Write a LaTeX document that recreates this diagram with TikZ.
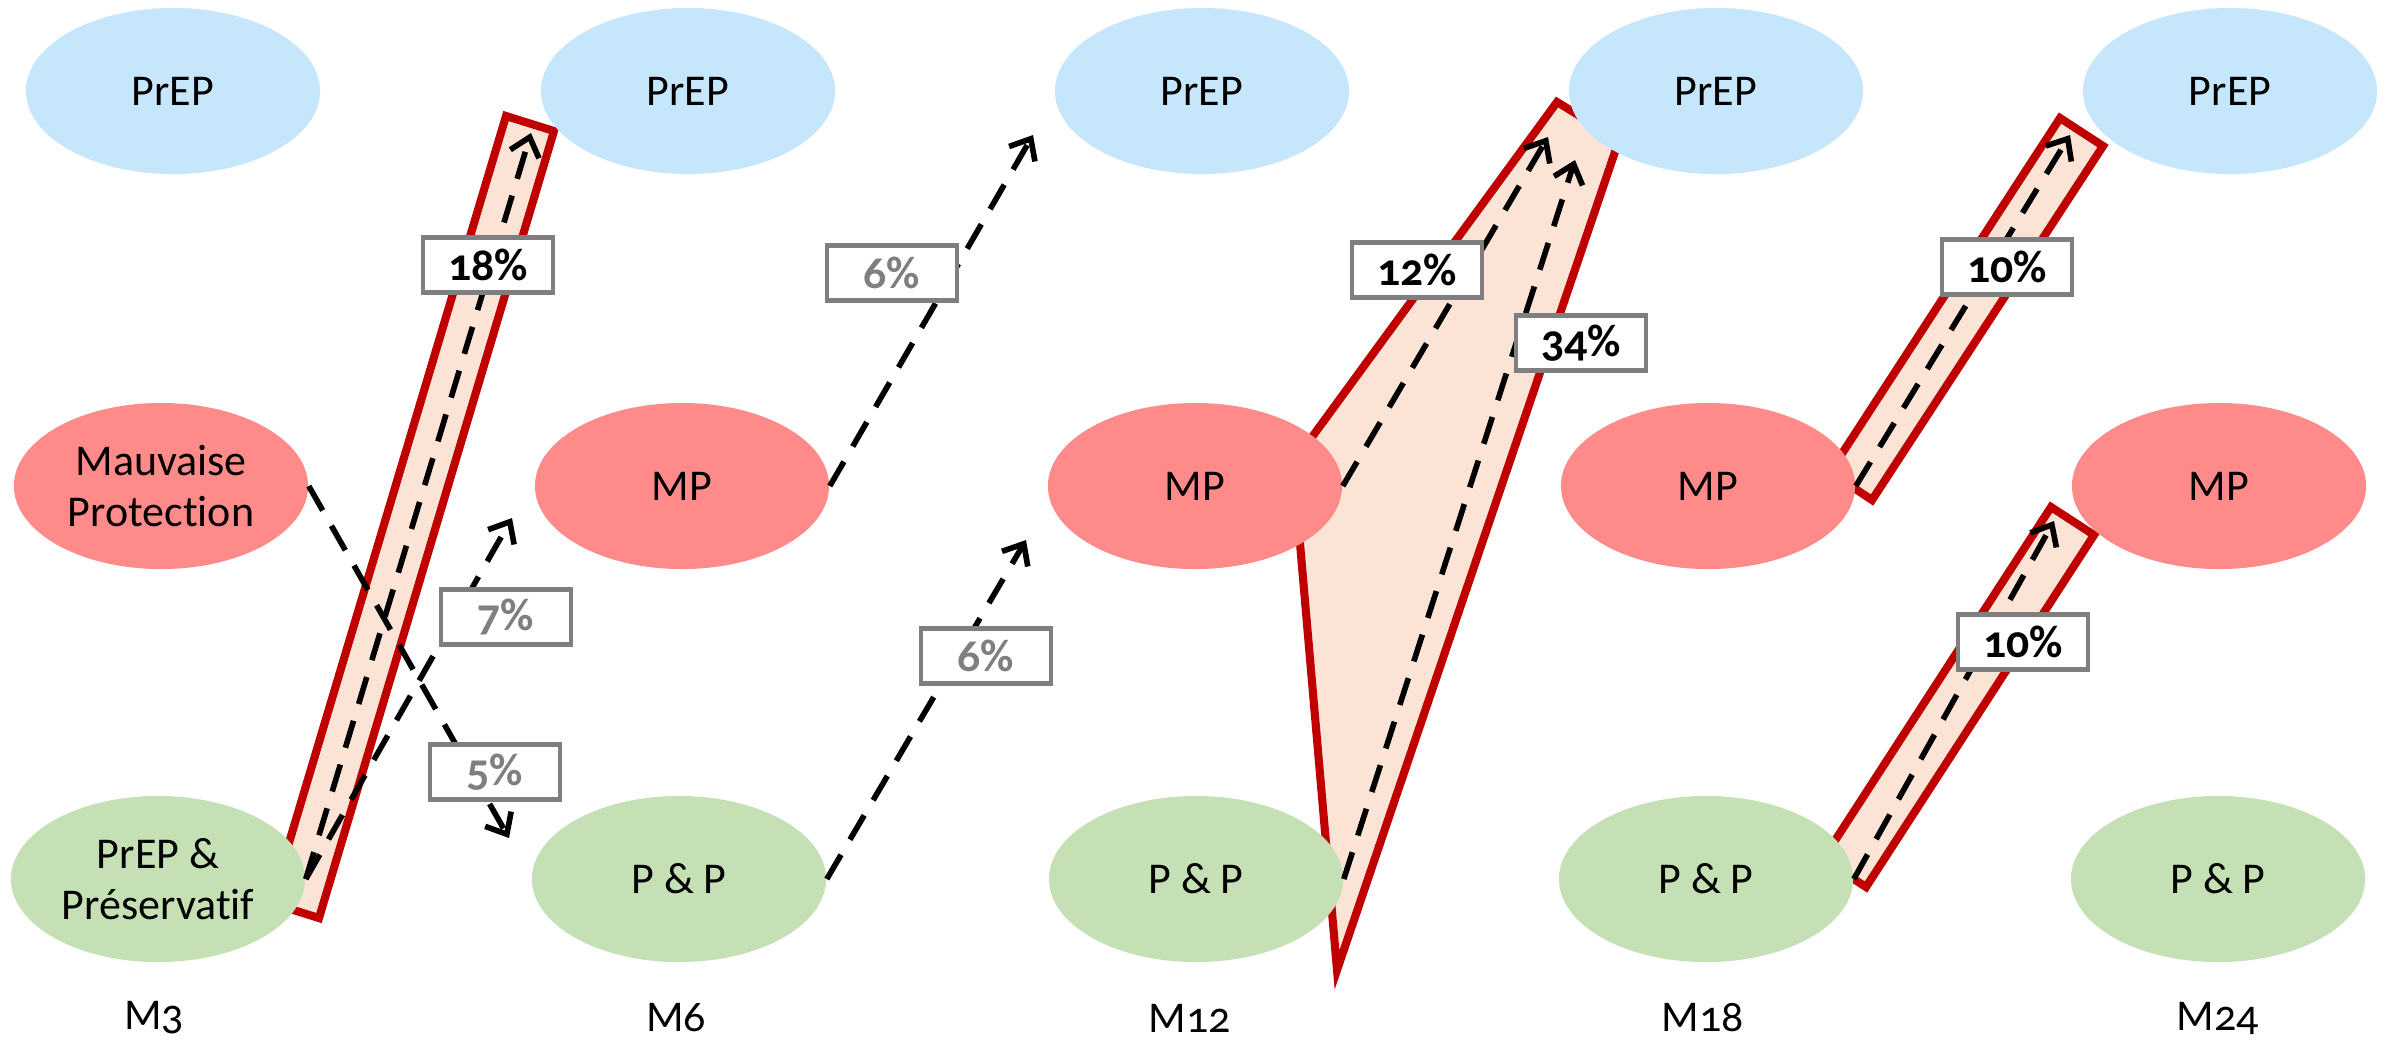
\documentclass[tikz,border=0pt]{standalone}
\usepackage{fontspec}
\setmainfont[Numbers=OldStyle,Ligatures=NoCommon]{Carlito}
\usepackage{tikz}
\usetikzlibrary{arrows.meta,shapes.geometric}
\definecolor{skyblue}{HTML}{C6E6FC}
\definecolor{salmon}{HTML}{FF8A8A}
\definecolor{sage}{HTML}{C5E0B4}
\definecolor{peach}{HTML}{FBE4D6}
\definecolor{darkred}{HTML}{C00000}
\definecolor{greybox}{HTML}{7F7F7F}

\begin{document}
\begin{tikzpicture}[x=0.01cm,y=-0.01cm,>={Straight Barb[length=5pt,width=8.5pt]},
  state/.style={ellipse,minimum width=2.94cm,minimum height=1.66cm,inner sep=0pt,align=center,font=\fontsize{12.5}{14.5}\selectfont},
  prep/.style={state,fill=skyblue},
  mp/.style={state,fill=salmon},
  pp/.style={state,fill=sage},
  band/.style={fill=peach,draw=darkred,line width=2.3pt,line join=miter},
  flow/.style={->,line width=1.6pt,dash pattern=on 8pt off 5pt},
  rate/.style={draw=greybox,line width=1.2pt,fill=white,minimum width=1.3cm,minimum height=0.55cm,inner sep=0pt,font=\fontsize{13}{15}\selectfont\bfseries},
  faded/.style={rate,text=greybox}]
\useasboundingbox (0,0) rectangle (2395,1053);

% highlighted transitions
\filldraw[band] (506,116) -- (554,131) -- (319,918) -- (271,903) -- cycle;
\filldraw[band] (1557,102) -- (1619,140) -- (1337,970) -- (1293,463) -- cycle;
\filldraw[band] (2060,118) -- (2103,146) -- (1872,500) -- (1830,472) -- cycle;
\filldraw[band] (2051,507) -- (2094,535) -- (1866,887) -- (1823,859) -- cycle;

% states at each visit
\node[prep] (prep3) at (173,91) {PrEP};
\node[mp] (mp3) at (161,486) {Mauvaise\\Protection};
\node[pp] (pp3) at (158,879) {PrEP \&\\Préservatif};
\foreach \m/\a/\b/\c in {6/688/682/679,12/1202/1195/1196,18/1716/1708/1706,24/2230/2219/2218}{
  \node[prep] (prep\m) at (\a,91) {PrEP};
  \node[mp] (mp\m) at (\b,486) {MP};
  \node[pp] (pp\m) at (\c,879) {P \& P};
}
\foreach \m/\x in {3/154,6/676,12/1190,18/1703,24/2218}
  \node[font=\fontsize{12.5}{14.5}\selectfont] (lab\m) at (\x,1018) {M\m};

% arrow tips
\coordinate (t18) at (531,133);
\coordinate (t7) at (512,518);
\coordinate (t5) at (509,838);
\coordinate (t6a) at (1033,135);
\coordinate (t6b) at (1026,540);
\coordinate (t12) at (1548,137);
\coordinate (t34) at (1575,160);
\coordinate (t10a) at (2070,135);
\coordinate (t10b) at (2054,521);

\draw[flow] (pp3.east) -- (t18);
\draw[flow] (pp3.east) -- (t7);
\draw[flow] (mp3.east) -- (t5);
\draw[flow] (mp6.east) -- (t6a);
\draw[flow] (pp6.east) -- (t6b);
\draw[flow] (mp12.east) -- (t12);
\draw[flow] (pp12.east) -- (t34);
\draw[flow] (mp18.east) -- (t10a);
\draw[flow] (pp18.east) -- (t10b);

\node[rate] (r18) at (488,265) {18\%};
\node[faded] (r7) at (506,617) {7\%};
\node[faded] (r5) at (495,772) {5\%};
\node[faded] (r6a) at (892,273) {6\%};
\node[faded] (r6b) at (986,656) {6\%};
\node[rate] (r12) at (1417,270) {12\%};
\node[rate] (r34) at (1581,343) {34\%};
\node[rate] (r10a) at (2007,267) {10\%};
\node[rate] (r10b) at (2023,642) {10\%};
\end{tikzpicture}
\end{document}
